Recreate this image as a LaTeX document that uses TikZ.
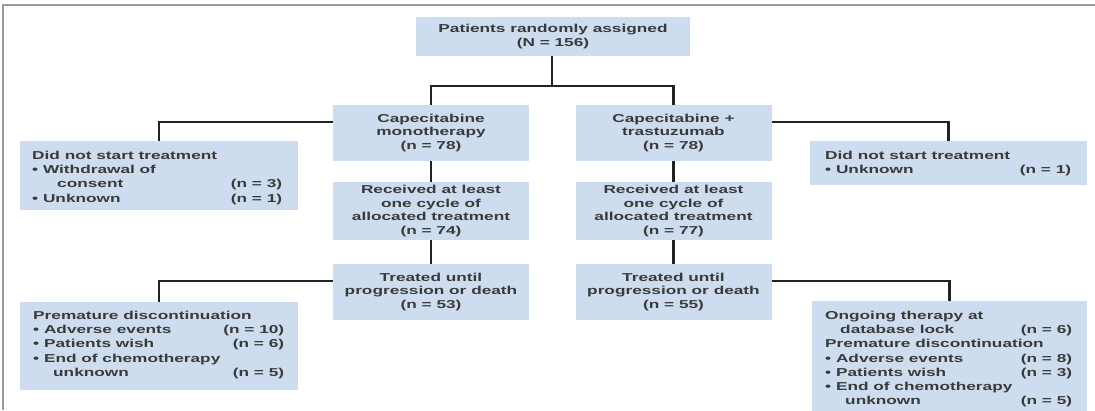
\documentclass[tikz,border=0pt]{standalone}
\usepackage{fontspec}
\setmainfont[FakeStretch=1.5,UprightFont={* Bold}]{Liberation Sans}
\definecolor{boxblue}{HTML}{CDDCEE}
\definecolor{txtgray}{HTML}{3A3A3A}
\definecolor{conncol}{HTML}{222222}
\definecolor{framecol}{HTML}{9A9A9A}
\newcommand\rw[3]{\makebox[#1][l]{#2\hfill#3}}
\begin{document}
\begin{tikzpicture}[x=1pt,y=-1pt,
  box/.style={fill=boxblue, draw=none, inner sep=0pt, text=txtgray,
    font=\fontsize{11.5}{13.5}\selectfont, align=center},
  listtxt/.style={inner sep=0pt, anchor=north west, text=txtgray,
    font=\fontsize{11.5}{14.2}\selectfont, align=left},
  connector/.style={draw=conncol, line width=2.2pt}]
\useasboundingbox (0,0) rectangle (1095,410);
\clip (0,0) rectangle (1095,410);
\draw[framecol, line width=1.5pt] (3,410) -- (3,5) -- (1095,5);

% centre column boxes
\node[box, minimum width=274pt, minimum height=39pt] (top) at (553,36.5)
  {Patients randomly assigned\\(N = 156)};
\node[box, minimum width=196pt, minimum height=56pt] (mono) at (431,133)
  {Capecitabine\\monotherapy\\(n = 78)};
\node[box, minimum width=196pt, minimum height=56pt] (ct) at (673.5,133)
  {Capecitabine +\\trastuzumab\\(n = 78)};
\node[box, minimum width=196pt, minimum height=58pt] (recv1) at (431,211)
  {Received at least\\one cycle of\\allocated treatment\\(n = 74)};
\node[box, minimum width=196pt, minimum height=58pt] (recv2) at (673.5,211)
  {Received at least\\one cycle of\\allocated treatment\\(n = 77)};
\node[box, minimum width=196pt, minimum height=56pt] (treat1) at (431,292)
  {Treated until\\progression or death\\(n = 53)};
\node[box, minimum width=196pt, minimum height=56pt] (treat2) at (673.5,292)
  {Treated until\\progression or death\\(n = 55)};

% side boxes
\node[box, minimum width=278pt, minimum height=69pt] (dns1) at (159,175.5) {};
\node[box, minimum width=277pt, minimum height=44pt] (dns2) at (948.5,163) {};
\node[box, minimum width=278pt, minimum height=88pt] (prem1) at (159,346) {};
\node[box, minimum width=275pt, minimum height=112pt] (ongo) at (949.5,357) {};

\node[listtxt] (dns1t) at (32,151) {%
  Did not start treatment\\
  \textbullet\ Withdrawal of\\
  \rw{250pt}{\hspace*{25pt}consent}{(n = 3)}\\
  \rw{250pt}{\textbullet\ Unknown}{(n = 1)}};
\node[listtxt] (dns2t) at (825,151) {%
  Did not start treatment\\
  \rw{246pt}{\textbullet\ Unknown}{(n = 1)}};
\node[listtxt] (prem1t) at (33,311) {%
  Premature discontinuation\\
  \rw{251pt}{\textbullet\ Adverse events}{(n = 10)}\\
  \rw{251pt}{\textbullet\ Patients wish}{(n = 6)}\\
  \textbullet\ End of chemotherapy\\
  \rw{251pt}{\hspace*{20pt}unknown}{(n = 5)}};
\node[listtxt] (ongot) at (825,311) {%
  Ongoing therapy at\\
  \rw{247pt}{\hspace*{15pt}database lock}{(n = 6)}\\
  Premature discontinuation\\
  \rw{247pt}{\textbullet\ Adverse events}{(n = 8)}\\
  \rw{247pt}{\textbullet\ Patients wish}{(n = 3)}\\
  \textbullet\ End of chemotherapy\\
  \rw{247pt}{\hspace*{20pt}unknown}{(n = 5)}};

% connectors
\coordinate (split) at (552,86);
\draw[connector] (top.south -| split) -- (split);
\draw[connector] (split) -| (mono.north);
\draw[connector] (split) -| (ct.north);
\draw[connector] ([yshift=11pt]mono.west) -| (dns1.north);
\draw[connector] ([yshift=11pt]ct.east) -| (dns2.north);
\draw[connector] (mono.south) -- (recv1.north);
\draw[connector] (ct.south) -- (recv2.north);
\draw[connector] (recv1.south) -- (treat1.north);
\draw[connector] (recv2.south) -- (treat2.north);
\draw[connector] ([yshift=11pt]treat1.west) -| (prem1.north);
\draw[connector] ([yshift=11pt]treat2.east) -| (ongo.north);
\end{tikzpicture}
\end{document}
